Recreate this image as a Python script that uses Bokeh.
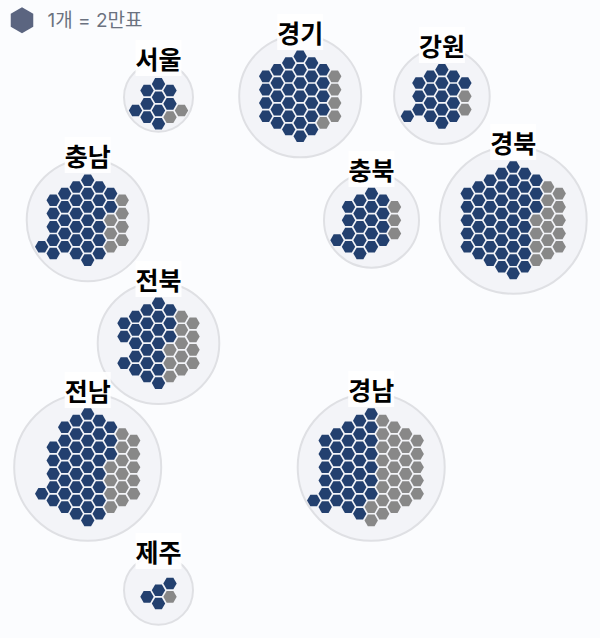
from bokeh.plotting import figure
from bokeh.models import Range1d
from bokeh.core.properties import value
from bokeh.embed import file_html
from bokeh.resources import INLINE
import math

W, H = 600, 638
BG = "#fbfcfe"
BLUE = "#23406f"
GREY = "#888888"

# region, circle centre x/y, circle radius, label y
regions = ["서울", "경기", "강원", "충남", "충북", "경북", "전북", "전남", "경남", "제주"]
center_x = [158, 299.7, 441.4, 87.2, 371, 512.7, 158, 87.2, 370.7, 158]
center_y = [96.7, 95.8, 95.8, 219.7, 219.7, 219.7, 342.7, 466.7, 466.7, 589.7]
radius = [34.5, 61, 47.8, 61, 47.5, 73.5, 60.8, 73.5, 73.5, 34.5]
label_y = [57.5, 31.5, 44.5, 154.5, 168.5, 141.5, 278.5, 389.5, 388.5, 550.5]

# cells: {column: (blue half-rows, grey half-rows)}
cells = {
    "서울": {-2: ([2], []), -1: ([-1, 1, 3], []), 0: ([-2, 0, 2, 4], []), 1: ([-1, 1], [3]), 2: ([], [2])},
    "경기": {-3: ([-3, -1, 1, 3], []), -2: ([-4, -2, 0, 2, 4], []), -1: ([-5, -3, -1, 1, 3, 5], []),
             0: ([-6, -4, -2, 0, 2, 4, 6], []), 1: ([-5, -3, -1, 1, 3, 5], []),
             2: ([-4, -2, 0, 2], [4]), 3: ([], [-3, -1, 1, 3])},
    "강원": {-3: ([3], []), -2: ([-2, 0, 2], []), -1: ([-3, -1, 1, 3], []), 0: ([-4, -2, 0, 2, 4], []),
             1: ([-3, -1, 1, 3], []), 2: ([-2], [0, 2])},
    "충남": {-4: ([4], []), -3: ([-3, -1, 1, 3, 5], []), -2: ([-4, -2, 0, 2, 4], []),
             -1: ([-5, -3, -1, 1, 3, 5], []), 0: ([-6, -4, -2, 0, 2, 4, 6], []),
             1: ([-5, -3, -1, 1, 3, 5], []), 2: ([-4, -2], [0, 2, 4]), 3: ([], [-3, -1, 1, 3])},
    "충북": {-3: ([3], []), -2: ([-2, 0, 2, 4], []), -1: ([-3, -1, 1, 3, 5], []), 0: ([-4, -2, 0, 2, 4], []),
             1: ([-3, -1, 1, 3], []), 2: ([], [-2, 0, 2])},
    "경북": {-4: ([-4, -2, 0, 2, 4], []), -3: ([-5, -3, -1, 1, 3, 5], []), -2: ([-6, -4, -2, 0, 2, 4, 6], []),
             -1: ([-7, -5, -3, -1, 1, 3, 5, 7], []), 0: ([-8, -6, -4, -2, 0, 2, 4, 6, 8], []),
             1: ([-7, -5, -3, -1, 1, 3, 5, 7], []), 2: ([-6, -4, -2], [0, 2, 4, 6]),
             3: ([], [-5, -3, -1, 1, 3, 5]), 4: ([], [-4, -2, 0, 2, 4])},
    "전북": {-3: ([-3, -1, 3], []), -2: ([-4, -2, 0, 2, 4], []), -1: ([-5, -3, -1, 1, 3, 5], []),
             0: ([-6, -4, -2, 0, 2, 4, 6], []), 1: ([-5, -3, -1], [1, 3, 5]),
             2: ([], [-4, -2, 0, 2, 4]), 3: ([], [-3, -1, 1, 3])},
    "전남": {-4: ([4], []), -3: ([-3, -1, 1, 3, 5], []), -2: ([-6, -4, -2, 0, 2, 4, 6], []),
             -1: ([-7, -5, -3, -1, 1, 3, 5, 7], []), 0: ([-8, -6, -4, -2, 0, 2, 4, 6, 8], []),
             1: ([-7, -5, -3, -1, 1, 3, 5, 7], []), 2: ([-6, -4, -2], [0, 2, 4, 6]),
             3: ([], [-5, -3, -1, 1, 3, 5]), 4: ([], [-4, -2, 0, 2, 4])},
    "경남": {-5: ([5], []), -4: ([-4, -2, 0, 2, 4, 6], []), -3: ([-5, -3, -1, 1, 3, 5], []),
             -2: ([-6, -4, -2, 0, 2, 4, 6], []), -1: ([-7, -5, -3, -1, 1, 3, 5, 7], []),
             0: ([-8, -6, -4, -2, 0, 2, 4], [6, 8]), 1: ([], [-7, -5, -3, -1, 1, 3, 5, 7]),
             2: ([], [-6, -4, -2, 0, 2, 4, 6]), 3: ([], [-5, -3, -1, 1, 3, 5]), 4: ([], [-4, -2, 0, 2, 4])},
    "제주": {-1: ([1], []), 0: ([0, 2], []), 1: ([-1], [1])},
}
legend_text = "1개 = 2만표"

COL_STEP = 11.5
ROW_STEP = 6.65

hx, hy, hc = [], [], []
for name, cx, cy in zip(regions, center_x, center_y):
    for col, (blue, grey) in cells[name].items():
        for rows, colr in ((blue, BLUE), (grey, GREY)):
            for r in rows:
                hx.append(cx + col * COL_STEP)
                hy.append(cy + r * ROW_STEP)
                hc.append(colr)

p = figure(width=W, height=H, output_backend="svg", toolbar_location=None,
           x_range=Range1d(0, W), y_range=Range1d(H, 0),
           min_border=0, outline_line_color=None,
           background_fill_color=BG, border_fill_color=BG,
           styles={"position": "absolute", "left": "0px", "top": "0px"})
p.axis.visible = False
p.grid.visible = False

p.circle(center_x, center_y, radius=radius, fill_color="#f3f4f8",
         line_color="#dfe0e4", line_width=2)

p.scatter(hx, hy, marker="hex", size=13.4, fill_color=hc, line_color=None)

# legend
p.scatter([21.5], [19.8], marker="hex", size=26, angle=math.pi / 2, fill_color="#5b6580", line_color=None)
p.text([47], [20], text=[legend_text], text_font=value("Inter, 'Noto Sans CJK KR'"), text_font_size="19px",
       text_color="#6b7280", text_baseline="middle", text_align="left")

# labels
p.text(center_x, label_y, text=regions, text_font=value("Noto Sans CJK KR"), text_font_style="bold",
       text_font_size="25px", text_color="#000000", text_align="center", text_baseline="middle",
       background_fill_color="#ffffff", background_fill_alpha=0.9)

html = file_html(p, INLINE)
html = html.replace("</head>", "<style>html,body{background:%s;}</style></head>" % BG, 1)
open("out.html", "w").write(html)
